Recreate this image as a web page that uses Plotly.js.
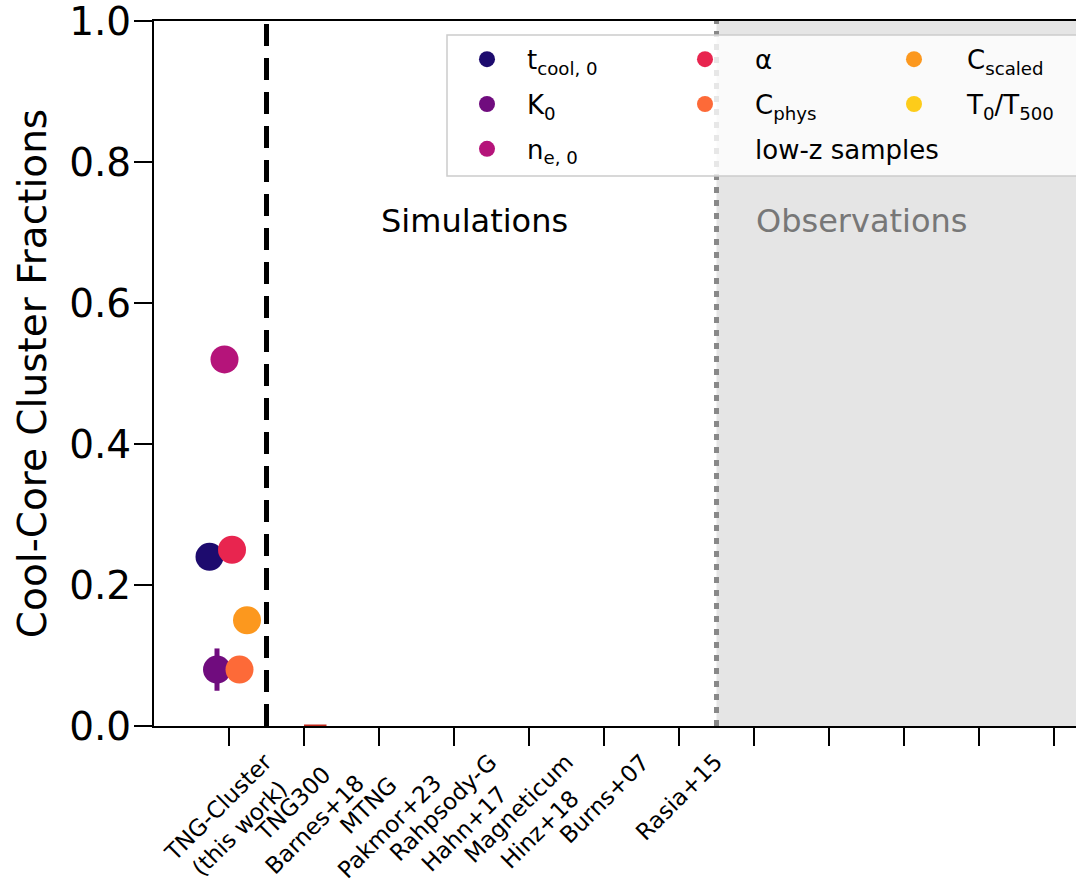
<!DOCTYPE html>
<html>
<head>
<meta charset="utf-8">
<script src="https://cdn.plot.ly/plotly-3.0.1.min.js"></script>
<style>html,body{margin:0;padding:0;background:#fff;}</style>
</head>
<body>
<div id="chart" style="width:1076px;height:882px;"></div>
<script>
// ---- data ----
const simulationLabels = [
  "TNG-Cluster<br>(this work)",
  "TNG300<br>Barnes+18",
  "MTNG<br>Pakmor+23",
  "Rahpsody-G<br>Hahn+17",
  "Magneticum<br>Hinz+18",
  "Burns+07",
  "Rasia+15"
];
const observationLabels = ["", "", "", "", ""];
const criteriaNames = [
  "t<sub>cool, 0</sub>",
  "K<sub>0</sub>",
  "n<sub>e, 0</sub>",
  "α",
  "C<sub>phys</sub>",
  "C<sub>scaled</sub>",
  "T<sub>0</sub>/T<sub>500</sub>"
];
const tngClusterFractions = [0.24, 0.08, 0.52, 0.25, 0.08, 0.15, null];
const tngClusterErrors = [0, 0.03, 0, 0, 0, 0, 0];
const tng300Fraction = [0.0, 0.0];
const yTickValues = [0.0, 0.2, 0.4, 0.6, 0.8, 1.0];
const criteriaColors = ["#1d0b6e", "#700c7e", "#b5147a", "#e8254f", "#fd6a38", "#fc981e", "#fdcc1a"];

// ---- build ----
const categories = simulationLabels.concat(observationLabels);
const catIndex = categories.map((_, i) => i);
const legendOf = ["legend", "legend", "legend", "legend2", "legend2", "legend3", "legend3"];
const jitterStep = 0.1, jitterCenter = 2.6;

const traces = [];
criteriaNames.forEach((name, k) => {
  traces.push({
    type: "scatter", mode: "markers", name: name,
    x: [catIndex[0] + (k - jitterCenter) * jitterStep],
    y: [tngClusterFractions[k]],
    error_y: tngClusterErrors[k] > 0 ? {type: "data", array: [tngClusterErrors[k]], visible: true, thickness: 5, width: 0, color: criteriaColors[k]} : {visible: false},
    marker: {color: criteriaColors[k], size: 28},
    legend: legendOf[k], legendgroup: "g" + k,
    cliponaxis: false
  });
  if (k === 4) {
    traces.push({
      type: "scatter", mode: "markers", name: "low-z samples",
      x: [null], y: [null],
      marker: {color: "rgba(0,0,0,0)", size: 16},
      legend: "legend2", legendgroup: "lowz"
    });
  }
});
// TNG300 (Barnes+18) value at zero
traces.push({
  type: "scatter", mode: "lines", showlegend: false,
  x: [catIndex[1], catIndex[1] + 0.3], y: tng300Fraction,
  line: {color: "#c0281c", width: 3}
});

const sepThisWork = 0.5;
const sepObs = simulationLabels.length - 0.5;
const xMax = -1 + 922 / 75;

const tickAnnotations = categories.map((c, i) => ({
  x: i, xref: "x", y: 0, yref: "paper", yshift: -20,
  xanchor: "center", yanchor: "top", textangle: -45,
  text: c, showarrow: false, align: "center",
  font: {size: 23, color: "black", family: "DejaVu Sans"}
})).filter(a => a.text !== "");

const legendBase = {
  yanchor: "top", xanchor: "left", orientation: "v",
  bgcolor: "rgba(0,0,0,0)", borderwidth: 0,
  font: {size: 26, color: "black", family: "DejaVu Sans"},
  itemsizing: "trace", traceorder: "grouped", tracegroupgap: 8
};

const layout = {
  width: 1076, height: 882,
  margin: {l: 154, r: 0, t: 21, b: 156, pad: 0},
  paper_bgcolor: "white", plot_bgcolor: "white",
  font: {family: "DejaVu Sans", color: "black"},
  showlegend: true,
  legend: Object.assign({}, legendBase, {x: (447 - 154) / 922, y: 0.979, itemwidth: 70}),
  legend2: Object.assign({}, legendBase, {x: (655 - 154) / 922, y: 0.979, itemwidth: 90}),
  legend3: Object.assign({}, legendBase, {x: (861 - 154) / 922, y: 0.979, itemwidth: 96}),
  xaxis: {
    range: [-1, xMax], tickvals: catIndex, showticklabels: false,
    ticks: "outside", ticklen: 18, tickwidth: 2, tickcolor: "black",
    showline: true, linecolor: "black", linewidth: 2, mirror: true,
    showgrid: false, zeroline: false
  },
  yaxis: {
    range: [0, 1], tickvals: yTickValues, tickformat: ".1f",
    ticks: "outside", ticklen: 18, tickwidth: 2, tickcolor: "black",
    showline: true, linecolor: "black", linewidth: 2,
    showgrid: false, zeroline: false,
    ticklabeloverflow: "allow",
    ticklabelstandoff: -5,
    tickfont: {size: 39, color: "black"},
    title: {text: "Cool-Core Cluster Fractions", font: {size: 39, color: "black"}, standoff: 11}
  },
  shapes: [
    {type: "rect", xref: "x", yref: "y", x0: sepObs, x1: xMax + 1, y0: 0, y1: 1, fillcolor: "#e5e5e5", line: {width: 0}, layer: "below"},
    {type: "line", xref: "x", yref: "y", x0: sepObs, x1: sepObs, y0: 0, y1: 1, line: {color: "#888888", width: 5, dash: "6px,7px"}, layer: "below"},
    {type: "line", xref: "x", yref: "y", x0: sepThisWork, x1: sepThisWork, y0: 0, y1: 1, line: {color: "black", width: 5, dash: "22px,12px"}, layer: "below"},
    {type: "rect", xref: "paper", yref: "paper", x0: (447 - 154) / 922, x1: 1.02, y0: (726 - 176) / 705, y1: (726 - 35) / 705, fillcolor: "rgba(255,255,255,0.8)", line: {color: "#cccccc", width: 1.5}, layer: "above"}
  ],
  annotations: tickAnnotations.concat([
    {x: 3.27, xref: "x", y: 0.716, yref: "paper", text: "Simulations", showarrow: false, xanchor: "center", yanchor: "middle", font: {size: 32, color: "black", family: "DejaVu Sans"}},
    {x: 8.44, xref: "x", y: 0.716, yref: "paper", text: "Observations", showarrow: false, xanchor: "center", yanchor: "middle", font: {size: 32, color: "#777777", family: "DejaVu Sans"}}
  ])
};

Plotly.newPlot("chart", traces, layout, {displayModeBar: false, staticPlot: true});
</script>
</body>
</html>
